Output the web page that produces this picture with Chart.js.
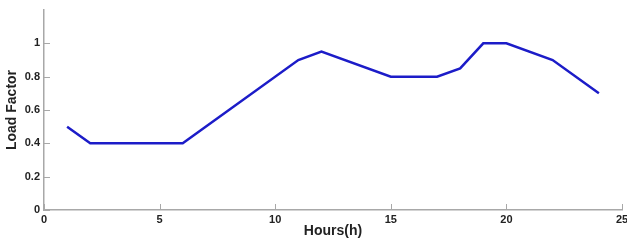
<!DOCTYPE html>
<html>
<head>
<meta charset="utf-8">
<script src="https://cdn.jsdelivr.net/npm/chart.js@4/dist/chart.umd.min.js"></script>
<style>
  body { margin: 0; background: #fff; }
  #wrap { width: 627px; height: 242px; position: relative; }
</style>
</head>
<body>
<div id="wrap"><canvas id="myChart"></canvas></div>
<script>
// load profile over the day
var hours = [1, 2, 6, 11, 12, 15, 17, 18, 19, 20, 22, 24];
var loadFactor = [0.5, 0.4, 0.4, 0.9, 0.95, 0.8, 0.8, 0.85, 1.0, 1.0, 0.9, 0.7];
var xTicks = [0, 5, 10, 15, 20, 25];
var yTicks = [0, 0.2, 0.4, 0.6, 0.8, 1];

var axisGray = '#a8a8a8';
var tickFont = { family: 'Liberation Sans, Arial', size: 11, weight: 'bold' };
var titleFont = { family: 'Liberation Sans, Arial', size: 14, weight: 'bold' };

// matlab style ticks pointing into the plot
var innerTicks = {
  id: 'innerTicks',
  afterDatasetsDraw: function(c) {
    var ctx = c.ctx, xs = c.scales.x, ys = c.scales.y, a = c.chartArea;
    ctx.save();
    ctx.strokeStyle = axisGray;
    ctx.lineWidth = 1;
    ctx.beginPath();
    xTicks.forEach(function(v) {
      var px = Math.round(xs.getPixelForValue(v)) + 0.5;
      ctx.moveTo(px, a.bottom);
      ctx.lineTo(px, a.bottom - 6);
    });
    yTicks.forEach(function(v) {
      var py = Math.round(ys.getPixelForValue(v)) + 0.5;
      ctx.moveTo(a.left, py);
      ctx.lineTo(a.left + 6, py);
    });
    ctx.stroke();
    ctx.restore();
  }
};

var ctx = document.getElementById('myChart').getContext('2d');
var chart = new Chart(ctx, {
  type: 'line',
  data: {
    datasets: [{
      data: hours.map(function(h, i) { return { x: h, y: loadFactor[i] }; }),
      borderColor: '#1c1cc8',
      borderWidth: 2.5,
      pointRadius: 0,
      fill: false,
      tension: 0
    }]
  },
  options: {
    responsive: true,
    maintainAspectRatio: false,
    animation: false,
    layout: { padding: { top: 10, right: 5, left: 0, bottom: 0 } },
    plugins: { legend: { display: false }, tooltip: { enabled: false } },
    scales: {
      x: {
        type: 'linear',
        min: 0, max: 25,
        afterBuildTicks: function(s) { s.ticks = xTicks.map(function(v) { return { value: v }; }); },
        afterFit: function(s) { s.height = 32; s.paddingLeft = 0; s.paddingRight = 0; },
        grid: { display: true, drawOnChartArea: false, drawTicks: false },
        border: { display: true, color: axisGray, width: 1.5 },
        ticks: { color: '#222', font: tickFont, padding: 3, maxRotation: 0 },
        title: { display: true, text: 'Hours(h)', color: '#222', font: titleFont, padding: { top: 0, bottom: 2 } }
      },
      y: {
        type: 'linear',
        min: 0, max: 1.2,
        afterBuildTicks: function(s) { s.ticks = yTicks.map(function(v) { return { value: v }; }); },
        afterFit: function(s) { s.width = 44; s.paddingTop = 0; s.paddingBottom = 0; },
        grid: { display: true, drawOnChartArea: false, drawTicks: false },
        border: { display: true, color: axisGray, width: 1.5 },
        ticks: { color: '#222', font: tickFont, padding: 4,
                 callback: function(v) { return String(Math.round(v * 10) / 10); } },
        title: { display: true, text: 'Load Factor', color: '#222', font: titleFont, padding: { top: 4, bottom: 0 } }
      }
    }
  },
  plugins: [innerTicks]
});
</script>
</body>
</html>
